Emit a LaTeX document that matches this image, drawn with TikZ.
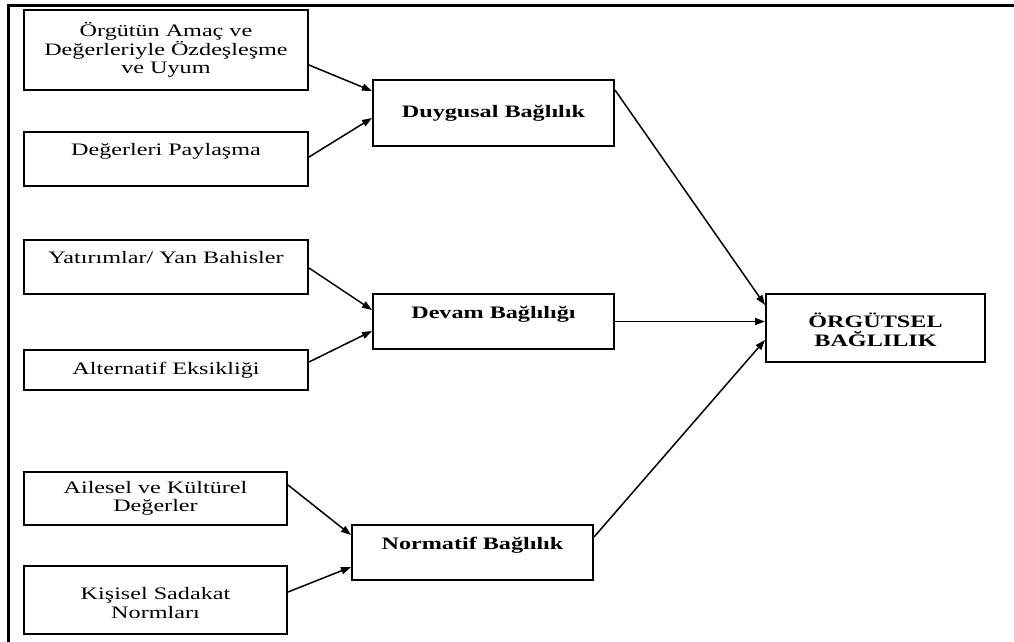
\documentclass[tikz,border=0pt]{standalone}
\usepackage{fontspec}
\setmainfont{Liberation Serif}[FakeStretch=1.38]
\usepackage{tikz}
\usetikzlibrary{arrows.meta}
\tikzset{kutu/.style={draw=black,line width=2pt,align=center,inner sep=0pt,font=\fontsize{17.5}{18.5}\selectfont}}
\tikzset{bkutu/.style={kutu,font=\fontsize{17.5}{18.5}\selectfont\bfseries}}
\tikzset{ok/.style={line width=1.5pt,-{Triangle[length=10pt,width=7pt]}}}

\begin{document}
\begin{tikzpicture}[x=1pt,y=-1pt]
\useasboundingbox (0,0) rectangle (1014,642);
\draw[line width=3pt] (1014,6) -- (8,6) -- (8,642);
% sol kutular
\node[kutu,minimum width=284pt,minimum height=80pt] (A1) at (166,50) {Örgütün Amaç ve\\Değerleriyle Özdeşleşme\\ve Uyum};
\node[kutu,minimum width=284pt,minimum height=54pt] (A2) at (166,159) {Değerleri Paylaşma\\\mbox{}};
\node[kutu,minimum width=284pt,minimum height=54pt] (B1) at (166,267) {Yatırımlar/ Yan Bahisler\\\mbox{}};
\node[kutu,minimum width=284pt,minimum height=40pt] (B2) at (166,370) {Alternatif Eksikliği};
\node[kutu,minimum width=263pt,minimum height=53pt] (C1) at (155.5,498.5) {Ailesel ve Kültürel\\Değerler};
\node[kutu,minimum width=263pt,minimum height=68pt] (C2) at (155.5,600) {\mbox{}\\Kişisel Sadakat\\Normları};
% orta kutular
\node[bkutu,minimum width=241pt,minimum height=66pt] (D) at (493.5,113) {Duygusal Bağlılık};
\node[bkutu,minimum width=241pt,minimum height=55pt] (Dev) at (493.5,321.5) {Devam Bağlılığı\\\mbox{}};
\node[bkutu,minimum width=241pt,minimum height=55pt] (N) at (472.5,552.5) {Normatif Bağlılık\\\mbox{}};
% sag kutu
\node[bkutu,minimum width=219pt,minimum height=68pt] (O) at (875.5,328) {\mbox{}\\ÖRGÜTSEL\\BAĞLILIK};
% oklar
\draw[ok] ([yshift=-15pt]A1.east) -- ([yshift=22pt]D.west);
\draw[ok] ([yshift=2pt]A2.east) -- ([yshift=-5pt]D.west);
\draw[ok] ([yshift=-1pt]B1.east) -- ([yshift=11.5pt]Dev.west);
\draw[ok] ([yshift=8pt]B2.east) -- ([yshift=-9.5pt]Dev.west);
\draw[ok] ([yshift=13.5pt]C1.east) -- ([yshift=17.5pt]N.west);
\draw[ok] ([yshift=8pt]C2.east) -- ([yshift=-14.5pt]N.west);
\draw[ok] ([yshift=23pt]D.east) -- ([yshift=23pt]O.west);
\draw[ok] (Dev.east) -- (Dev.east -| O.west);
\draw[ok] ([yshift=15.5pt]N.east) -- ([yshift=-12pt]O.west);
\end{tikzpicture}
\end{document}
